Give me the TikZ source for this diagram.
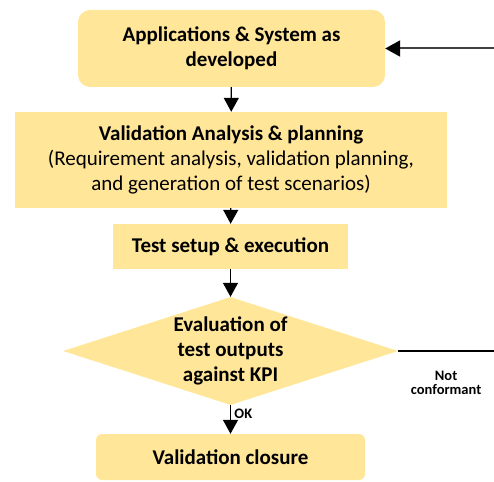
\documentclass[tikz,border=0pt]{standalone}
\usepackage{fontspec}
\setmainfont{Carlito}
\usetikzlibrary{shapes.geometric,arrows.meta}
\definecolor{boxfill}{HTML}{FFE699}
\definecolor{feedgray}{HTML}{404040}
\tikzset{
  box/.style={fill=boxfill,draw=none,align=center,font=\fontsize{21}{25}\selectfont},
  flow/.style={line width=1.3pt,-{Triangle[length=14pt,width=15pt]}},
  lbl/.style={font=\fontsize{14.5}{14}\selectfont\bfseries,align=center}
}
\begin{document}
\begin{tikzpicture}[x=1pt,y=-1pt]
\useasboundingbox (0,0) rectangle (494,481);
\node[box,rounded corners=12pt,minimum width=307pt,minimum height=77pt] (app) at (231.5,48.5)
  {\bfseries Applications \& System as\\\bfseries developed};
\node[box,minimum width=432pt,minimum height=96pt] (plan) at (231,160)
  {\bfseries Validation Analysis \& planning\\(Requirement analysis, validation planning,\\and generation of test scenarios)};
\node[box,minimum width=235pt,minimum height=45pt] (exec) at (230.5,246.5)
  {\bfseries Test setup \& execution};
\node[box,diamond,aspect=3.1,inner sep=-10pt,minimum width=335pt,minimum height=108pt] (eval) at (230.5,351)
  {\bfseries Evaluation of\\\bfseries test outputs\\\bfseries against KPI};
\node[box,rounded corners=6pt,minimum width=269pt,minimum height=46pt] (close) at (230.5,457)
  {\bfseries Validation closure};
\coordinate (feed) at (494,48.5);
\coordinate (nc) at (494,351);
% connectors
\draw[line width=2pt,feedgray,-{Triangle[length=15pt,width=16pt,color=black,fill=black]}] (feed) -- (app.east);
\draw[flow] (app) -- (plan);
\draw[flow] (plan) -- (exec);
\draw[flow] (exec) -- (eval);
\draw[flow] (eval) -- node[lbl,right,pos=0.3] {OK} (close);
\draw[line width=1.3pt] (eval.east) -- node[lbl,below=16pt] {Not\\conformant} (nc);
\end{tikzpicture}
\end{document}
